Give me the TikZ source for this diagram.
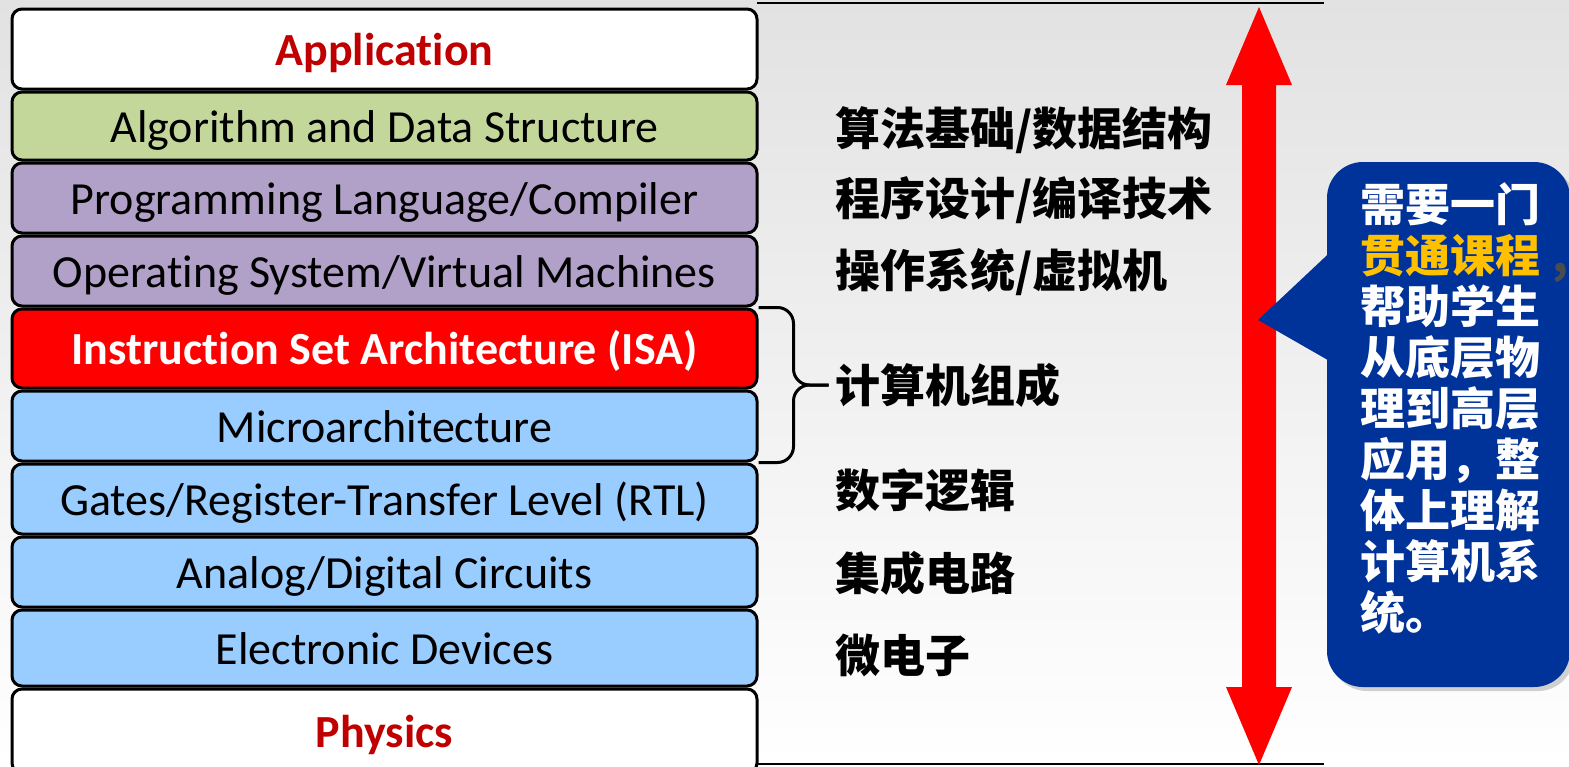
\documentclass[tikz,border=0pt]{standalone}
\usepackage{fontspec}
\setmainfont{Carlito}[Ligatures={NoCommon}]
\newfontfamily\cjk{Noto Sans CJK SC}
\usepackage{tikz}
\usetikzlibrary{positioning,calc,shadows}
\definecolor{algogreen}{HTML}{C4D79B}
\definecolor{langpurple}{HTML}{B1A0C7}
\definecolor{hwblue}{HTML}{99CCFF}
\definecolor{isared}{HTML}{FF0000}
\definecolor{titlered}{HTML}{C00000}
\definecolor{calloutblue}{HTML}{003399}
\definecolor{gold}{HTML}{FFC000}
\definecolor{bgtop}{HTML}{E2E2E2}
\tikzset{
  layerbox/.style={
    rectangle, rounded corners=10pt, draw=black, line width=3pt, fill=#1,
    minimum width=745pt, inner sep=0pt, align=center,
    text height=37.5pt, text depth=5.5pt,
    font=\fontsize{46}{52}\selectfont
  },
  layerbox/.default=white,
  toplayer/.style={
    layerbox=white, text=titlered, font=\bfseries\fontsize{46}{52}\selectfont
  },
  cnlabel/.style={
    anchor=west, inner sep=0pt, font=\cjk\bfseries\fontsize{45}{51}\selectfont
  },
  bracemark/.style={draw=black, line width=3pt, rounded corners=16pt},
  ruleline/.style={draw=black, line width=2pt},
  % ── callout on the right ──
  calloutbox/.style={rectangle, rounded corners=36pt, fill=calloutblue,
    drop shadow={opacity=0.35, shadow xshift=4pt, shadow yshift=-4pt}},
  callouttext/.style={anchor=north west, inner sep=0pt, align=left,
    text=white, font=\cjk\bfseries\fontsize{45}{51}\selectfont},
}
\begin{document}
\begin{tikzpicture}[x=1pt, y=-1pt]
\useasboundingbox (0,0) rectangle (1569,766);
\shade[top color=bgtop, bottom color=white] (0,0) rectangle (1569,766);

% ── rules and the red double arrow ──
\draw[ruleline] (757,3) -- (1324,3);
\draw[ruleline] (757,764) -- (1324,764);
\fill[isared] (1259,7) -- (1292,85) -- (1276,85) -- (1276,687) -- (1292,687)
  -- (1259,765) -- (1226,687) -- (1242,687) -- (1242,85) -- (1226,85) -- cycle;

% ── callout ──
\node[calloutbox, minimum width=243pt, minimum height=525pt] (callout) at (1448.5,424.5) {};
\fill[calloutblue] (1340,243) -- (1258,320) -- (1340,367) -- cycle;
\node[callouttext] (calltext) at (1360,182)
  {需要一门\\{\color{gold}贯通课程}{\color{black!70}\kern12pt,}\\帮助学生\\从底层物\\理到高层\\应用，整\\体上理解\\计算机系\\统。};

% ── abstraction layers ──
\node[toplayer, minimum height=80pt] (app) at (384.5,49) {Application};
\node[layerbox=algogreen, minimum height=68pt, below=0pt of app] (algo) {Algorithm and Data Structure};
\node[layerbox=langpurple, minimum height=70pt, below=0pt of algo] (lang) {Programming Language/Compiler};
\node[layerbox=langpurple, minimum height=70pt, below=0pt of lang] (os) {Operating System/Virtual Machines};
\node[layerbox=isared, text=white, font=\bfseries\fontsize{46}{52}\selectfont,
  minimum height=79pt, below=0pt of os] (isa) {Instruction Set Architecture (ISA)};
\node[layerbox=hwblue, minimum height=70pt, below=0pt of isa] (micro) {Microarchitecture};
\node[layerbox=hwblue, minimum height=70pt, below=0pt of micro] (rtl) {Gates/Register-Transfer Level (RTL)};
\node[layerbox=hwblue, minimum height=70pt, below=0pt of rtl] (circ) {Analog/Digital Circuits};
\node[layerbox=hwblue, minimum height=76pt, below=0pt of circ] (dev) {Electronic Devices};
\node[toplayer, minimum height=84pt, below=0pt of dev] (phys) {Physics};

% ── brace over ISA + microarchitecture ──
\coordinate (bracemid) at ($(isa.north east)!.5!(micro.south east)$);
\draw[bracemark] (isa.north east) -- ([xshift=35pt]isa.north east)
  -- ([xshift=35pt]bracemid) -- ([xshift=70pt]bracemid);
\draw[bracemark] (micro.south east) -- ([xshift=35pt]micro.south east)
  -- ([xshift=35pt]bracemid) -- ([xshift=70pt]bracemid);

% ── course names ──
\node[cnlabel] (cnalgo) at (835,130) {算法基础/数据结构};
\node[cnlabel] (cnlang) at (835,200) {程序设计/编译技术};
\node[cnlabel] (cnos) at (835,272) {操作系统/虚拟机};
\node[cnlabel] (cnorg) at ([xshift=77pt]bracemid) {计算机组成};
\node[cnlabel] (cnlogic) at (835,490) {数字逻辑};
\node[cnlabel] (cnic) at (835,573) {集成电路};
\node[cnlabel] (cnmicro) at (835,655) {微电子};
\end{tikzpicture}
\end{document}
